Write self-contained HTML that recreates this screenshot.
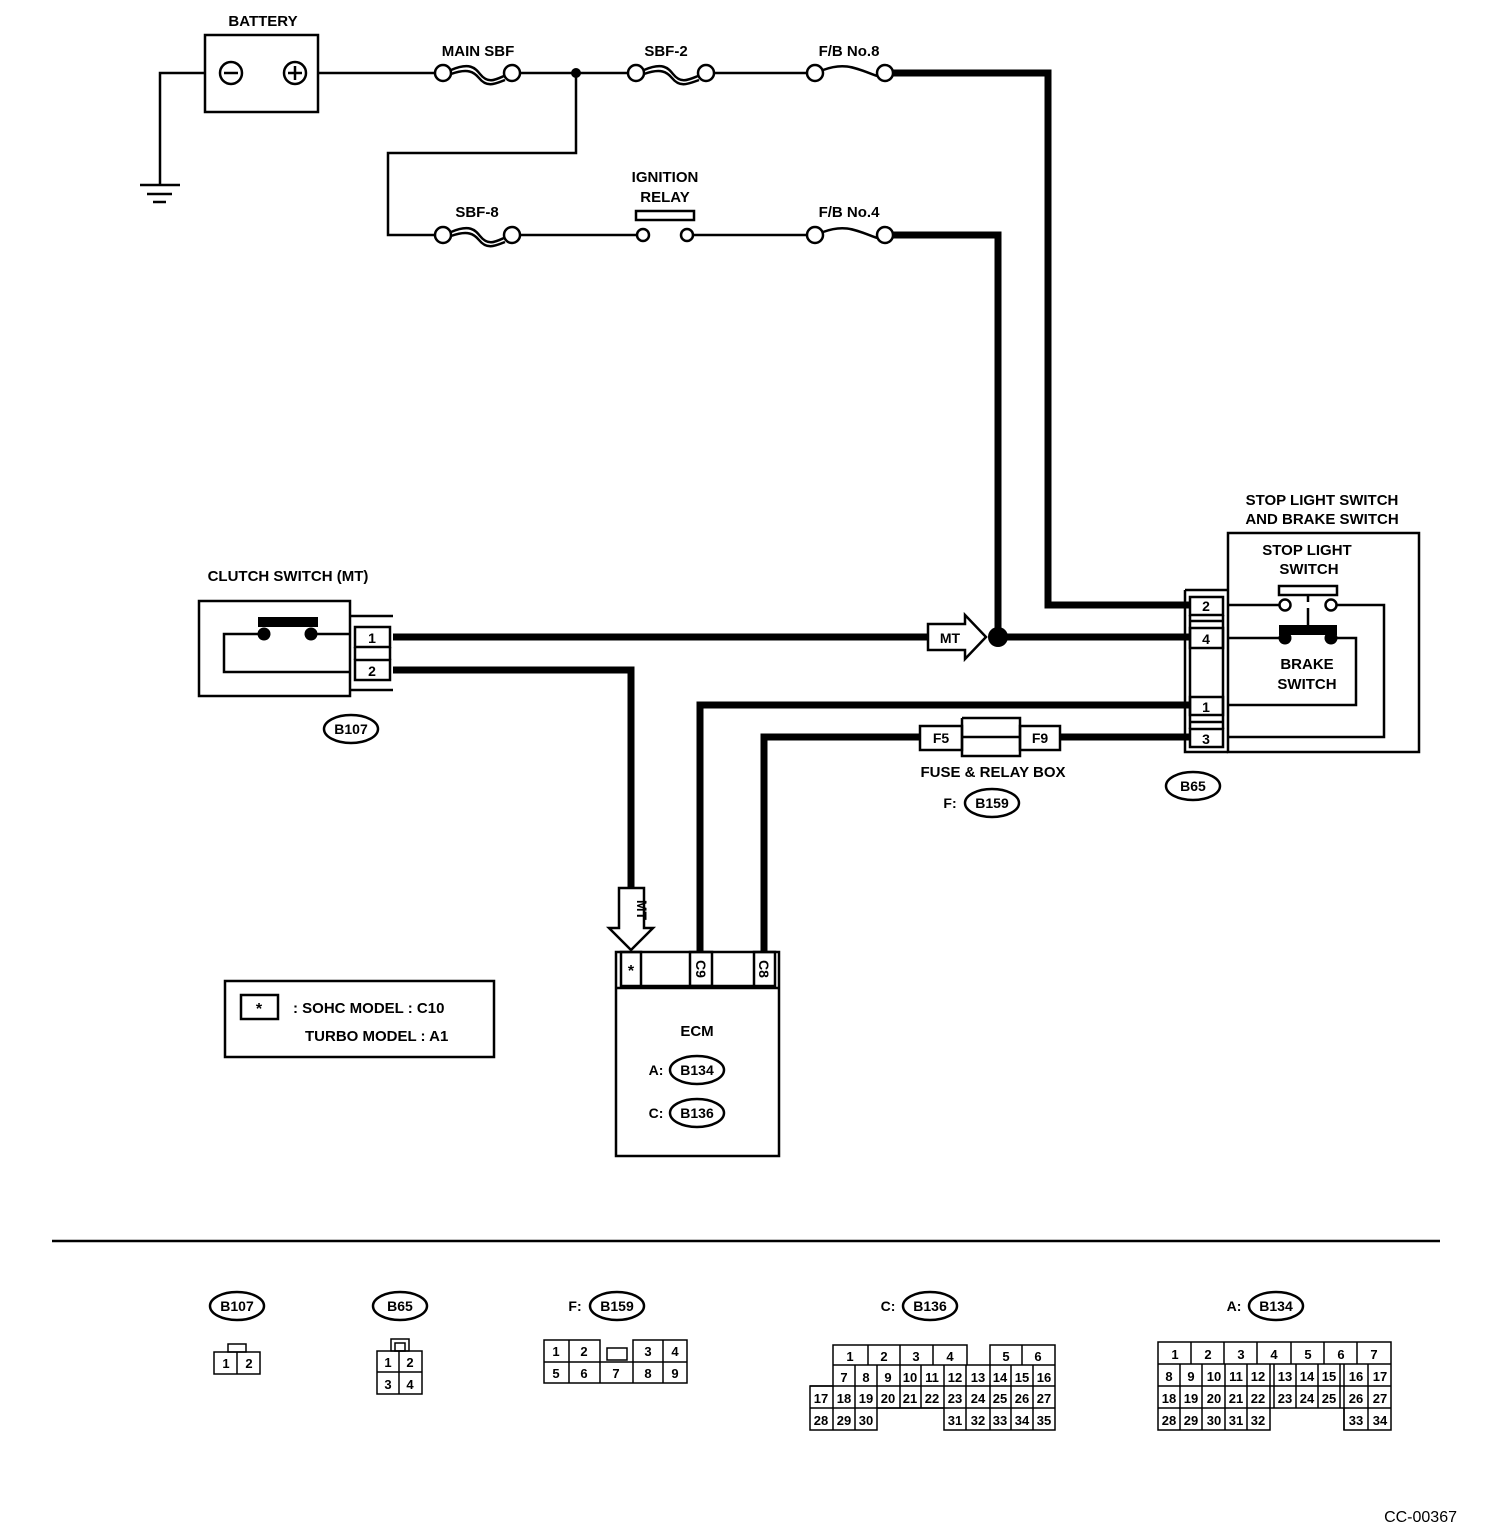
<!DOCTYPE html>
<html><head><meta charset="utf-8"><style>
html,body{margin:0;padding:0;background:#fff;}
svg{display:block;}
text{font-family:"Liberation Sans",sans-serif;font-weight:bold;fill:#000;}
</style></head><body>
<svg width="1504" height="1540" viewBox="0 0 1504 1540" xmlns="http://www.w3.org/2000/svg">
<g fill="none" stroke="#000" stroke-width="2.5">
<!-- battery -->
<rect x="205" y="35" width="113" height="77"/>
<circle cx="231" cy="73" r="11"/><line x1="224" y1="73" x2="238" y2="73"/>
<circle cx="295" cy="73" r="11"/><line x1="288" y1="73" x2="302" y2="73"/><line x1="295" y1="66" x2="295" y2="80"/>
<polyline points="205,73 160,73 160,185"/>
<line x1="140" y1="185" x2="180" y2="185"/><line x1="147" y1="194" x2="172" y2="194"/><line x1="153" y1="202" x2="166" y2="202"/>
<!-- top line -->
<line x1="318" y1="73" x2="435" y2="73"/>
<line x1="520" y1="73" x2="628" y2="73"/>
<line x1="714" y1="73" x2="807" y2="73"/>
<polyline points="576,73 576,153 388,153 388,235 435,235"/>
<line x1="520" y1="235" x2="636" y2="235"/>
<line x1="694" y1="235" x2="807" y2="235"/>
<!-- fuses -->
<circle cx="443" cy="73" r="8"/><circle cx="512" cy="73" r="8"/>
<path d="M451,70 C470,62 475,68 480,74 C488,84 495,80 504,76"/><path d="M451,74 C468,68 474,72 479,78 C487,88 495,84 505,80"/>
<circle cx="636" cy="73" r="8"/><circle cx="706" cy="73" r="8"/>
<path d="M644,70 C663,62 668,68 673,74 C681,84 688,80 698,76"/><path d="M644,74 C661,68 667,72 672,78 C680,88 688,84 699,80"/>
<circle cx="443" cy="235" r="8"/><circle cx="512" cy="235" r="8"/>
<path d="M451,232 C470,224 475,230 480,236 C488,246 495,242 504,238"/><path d="M451,236 C468,230 474,234 479,240 C487,250 495,246 505,242"/>
<circle cx="815" cy="73" r="8"/><circle cx="885" cy="73" r="8"/>
<path d="M823,70 C845,62 855,68 877,76"/>
<circle cx="815" cy="235" r="8"/><circle cx="885" cy="235" r="8"/>
<path d="M823,232 C845,224 855,230 877,238"/>
<!-- relay -->
<circle cx="643" cy="235" r="6"/><circle cx="687" cy="235" r="6"/>
<rect x="636" y="211" width="58" height="9"/>
</g>
<circle cx="576" cy="73" r="5" fill="#000"/>
<!-- thick wires -->
<g fill="none" stroke="#000" stroke-width="7">
<polyline points="892,73 1048,73 1048,605 1190,605"/>
<polyline points="892,235 998,235 998,637"/>
<line x1="393" y1="637" x2="930" y2="637"/>
<line x1="998" y1="637" x2="1190" y2="637"/>
<polyline points="393,670 631,670 631,890"/>
<polyline points="1190,705 700,705 700,952"/>
<line x1="1190" y1="737" x2="1060" y2="737"/>
<polyline points="920,737 764,737 764,952"/>
</g>
<circle cx="998" cy="637" r="10" fill="#000"/>
<!-- MT arrows -->
<path d="M928,624 L965,624 L965,615 L986,637 L965,659 L965,650 L928,650 Z" fill="#fff" stroke="#000" stroke-width="2.5"/>
<text x="950" y="643" font-size="14" text-anchor="middle">MT</text>
<path d="M619,888 L644,888 L644,928 L653,928 L631,950 L609,928 L619,928 Z" fill="#fff" stroke="#000" stroke-width="2.5"/>
<text x="0" y="0" font-size="14" text-anchor="middle" transform="translate(637,910) rotate(90)">MT</text>
<g fill="none" stroke="#000" stroke-width="2.5">
<!-- clutch switch -->
<rect x="199" y="601" width="151" height="95"/>
<polyline points="258,634 224,634 224,672 350,672"/>
<line x1="311" y1="634" x2="350" y2="634"/>
<polyline points="350,616 393,616"/><polyline points="350,690 393,690"/>
<rect x="355" y="627" width="35" height="20"/><rect x="355" y="660" width="35" height="20"/>
<line x1="355" y1="647" x2="355" y2="660"/><line x1="390" y1="647" x2="390" y2="660"/>
<!-- B65 & stop switch -->
<rect x="1228" y="533" width="191" height="219"/>
<polyline points="1185,590 1228,590"/><polyline points="1185,590 1185,752 1228,752"/>
<rect x="1190" y="597" width="33" height="18"/><rect x="1190" y="628" width="33" height="20"/>
<rect x="1190" y="697" width="33" height="18"/><rect x="1190" y="729" width="33" height="18"/>
<line x1="1190" y1="615" x2="1190" y2="729"/><line x1="1223" y1="615" x2="1223" y2="729"/>
<line x1="1190" y1="621" x2="1223" y2="621"/><line x1="1190" y1="722" x2="1223" y2="722"/>
<rect x="1279" y="586" width="58" height="9"/>
<circle cx="1285" cy="605" r="5.5"/><circle cx="1331" cy="605" r="5.5"/>
<line x1="1308" y1="595" x2="1308" y2="602"/><line x1="1308" y1="608" x2="1308" y2="625"/>
<line x1="1228" y1="605" x2="1279" y2="605"/>
<polyline points="1337,605 1384,605 1384,737 1228,737"/>
<line x1="1228" y1="638" x2="1279" y2="638"/>
<polyline points="1337,638 1356,638 1356,705 1228,705"/>
<!-- fuse relay box -->
<rect x="920" y="726" width="42" height="24"/><rect x="1020" y="726" width="40" height="24"/>
<polyline points="962,718 1020,718 1020,756 962,756 962,718"/>
<line x1="962" y1="737" x2="1020" y2="737"/>
<!-- ECM -->
<rect x="616" y="952" width="163" height="204"/>
<line x1="616" y1="988" x2="779" y2="988"/>
<rect x="621" y="952" width="20" height="34"/><rect x="690" y="952" width="22" height="34"/><rect x="754" y="952" width="21" height="34"/>
<line x1="641" y1="986" x2="754" y2="986"/>
<!-- legend -->
<rect x="225" y="981" width="269" height="76"/>
<rect x="241" y="995" width="37" height="24"/>
<!-- ovals -->
<ellipse cx="351" cy="729" rx="27" ry="14"/>
<ellipse cx="1193" cy="786" rx="27" ry="14"/>
<ellipse cx="992" cy="803" rx="27" ry="14"/>
<ellipse cx="697" cy="1070" rx="27" ry="14"/>
<ellipse cx="697" cy="1113" rx="27" ry="14"/>
<ellipse cx="237" cy="1306" rx="27" ry="14"/>
<ellipse cx="400" cy="1306" rx="27" ry="14"/>
<ellipse cx="617" cy="1306" rx="27" ry="14"/>
<ellipse cx="930" cy="1306" rx="27" ry="14"/>
<ellipse cx="1276" cy="1306" rx="27" ry="14"/>
</g>
<rect x="258" y="617" width="60" height="10" fill="#000"/>
<circle cx="264" cy="634" r="6.5" fill="#000"/><circle cx="311" cy="634" r="6.5" fill="#000"/>
<rect x="1279" y="625" width="58" height="10" fill="#000"/>
<circle cx="1285" cy="638" r="6.5" fill="#000"/><circle cx="1331" cy="638" r="6.5" fill="#000"/>
<line x1="52" y1="1241" x2="1440" y2="1241" stroke="#000" stroke-width="2.5"/>
<!-- labels -->
<g font-size="15" text-anchor="middle">
<text x="263" y="26">BATTERY</text>
<text x="478" y="56">MAIN SBF</text>
<text x="666" y="56">SBF-2</text>
<text x="849" y="56">F/B  No.8</text>
<text x="477" y="217">SBF-8</text>
<text x="665" y="182">IGNITION</text>
<text x="665" y="202">RELAY</text>
<text x="849" y="217">F/B  No.4</text>
<text x="288" y="581">CLUTCH SWITCH (MT)</text>
<text x="1322" y="505">STOP LIGHT SWITCH</text>
<text x="1322" y="524">AND BRAKE SWITCH</text>
<text x="1307" y="555">STOP LIGHT</text>
<text x="1309" y="574">SWITCH</text>
<text x="1307" y="669">BRAKE</text>
<text x="1307" y="689">SWITCH</text>
<text x="993" y="777">FUSE &amp; RELAY BOX</text>
<text x="697" y="1036">ECM</text>
</g>
<g font-size="14" text-anchor="middle">
<text x="372" y="643">1</text><text x="372" y="676">2</text>
<text x="1206" y="611">2</text><text x="1206" y="644">4</text><text x="1206" y="712">1</text><text x="1206" y="744">3</text>
<text x="941" y="743">F5</text><text x="1040" y="743">F9</text>
<text x="631" y="976" font-size="16">*</text>
<text transform="translate(696,969) rotate(90)">C9</text>
<text transform="translate(759,969) rotate(90)">C8</text>
<text x="351" y="734">B107</text>
<text x="1193" y="791">B65</text>
<text x="992" y="808">B159</text><text x="950" y="808">F:</text>
<text x="697" y="1075">B134</text><text x="656" y="1075">A:</text>
<text x="697" y="1118">B136</text><text x="656" y="1118">C:</text>
<text x="259" y="1014" font-size="16">*</text>
<text x="237" y="1311">B107</text>
<text x="400" y="1311">B65</text>
<text x="617" y="1311">B159</text><text x="575" y="1311">F:</text>
<text x="930" y="1311">B136</text><text x="888" y="1311">C:</text>
<text x="1276" y="1311">B134</text><text x="1234" y="1311">A:</text>
</g>
<g font-size="15">
<text x="293" y="1013">: SOHC MODEL : C10</text>
<text x="305" y="1041">TURBO MODEL : A1</text>
</g>
<text x="1457" y="1522" font-size="16" text-anchor="end" style="font-weight:normal">CC-00367</text>
<!-- bottom connectors -->
<g fill="none" stroke="#000" stroke-width="1.5">
<rect x="214" y="1352" width="46" height="22"/><line x1="237" y1="1352" x2="237" y2="1374"/>
<rect x="228" y="1344" width="18" height="8"/>
<rect x="377" y="1351" width="45" height="43"/><line x1="399" y1="1351" x2="399" y2="1394"/><line x1="377" y1="1372" x2="422" y2="1372"/>
<rect x="391" y="1339" width="18" height="12"/><rect x="395" y="1343" width="10" height="8"/>
<path d="M544,1340 H600 V1362 H633 V1340 H687 V1383 H544 Z"/>
<line x1="544" y1="1362" x2="600" y2="1362"/><line x1="633" y1="1362" x2="687" y2="1362"/>
<line x1="569" y1="1340" x2="569" y2="1383"/><line x1="600" y1="1362" x2="600" y2="1383"/><line x1="663" y1="1340" x2="663" y2="1383"/><line x1="633" y1="1362" x2="633" y2="1383"/>
<rect x="607" y="1348" width="20" height="12"/>
<!-- B136 -->
<path d="M833,1345 H967 V1365 H990 V1345 H1055 V1430 H944 V1408 H877 V1430 H810 V1386 H833 Z"/>
<line x1="833" y1="1365" x2="967" y2="1365"/><line x1="990" y1="1365" x2="1055" y2="1365"/>
<line x1="810" y1="1386" x2="1055" y2="1386"/><line x1="810" y1="1408" x2="1055" y2="1408"/>
<line x1="868" y1="1345" x2="868" y2="1365"/><line x1="900" y1="1345" x2="900" y2="1365"/><line x1="933" y1="1345" x2="933" y2="1365"/><line x1="1022" y1="1345" x2="1022" y2="1365"/>
<line x1="833" y1="1386" x2="833" y2="1430"/><line x1="855" y1="1365" x2="855" y2="1430"/>
<line x1="877" y1="1365" x2="877" y2="1408"/><line x1="900" y1="1365" x2="900" y2="1408"/><line x1="921" y1="1365" x2="921" y2="1408"/><line x1="944" y1="1365" x2="944" y2="1408"/>
<line x1="966" y1="1365" x2="966" y2="1430"/><line x1="990" y1="1365" x2="990" y2="1430"/><line x1="1011" y1="1365" x2="1011" y2="1430"/><line x1="1033" y1="1365" x2="1033" y2="1430"/>
<!-- B134 -->
<path d="M1158,1342 H1391 V1430 H1344 V1408 H1270 V1430 H1158 Z"/>
<line x1="1158" y1="1364" x2="1391" y2="1364"/><line x1="1158" y1="1386" x2="1391" y2="1386"/><line x1="1158" y1="1408" x2="1270" y2="1408"/><line x1="1344" y1="1408" x2="1391" y2="1408"/>
<line x1="1191" y1="1342" x2="1191" y2="1364"/><line x1="1224" y1="1342" x2="1224" y2="1364"/><line x1="1257" y1="1342" x2="1257" y2="1364"/><line x1="1291" y1="1342" x2="1291" y2="1364"/><line x1="1324" y1="1342" x2="1324" y2="1364"/><line x1="1357" y1="1342" x2="1357" y2="1364"/>
<line x1="1180" y1="1364" x2="1180" y2="1430"/><line x1="1202" y1="1364" x2="1202" y2="1430"/><line x1="1225" y1="1364" x2="1225" y2="1430"/><line x1="1247" y1="1364" x2="1247" y2="1430"/>
<line x1="1270" y1="1364" x2="1270" y2="1408"/><line x1="1274" y1="1364" x2="1274" y2="1408"/>
<line x1="1296" y1="1364" x2="1296" y2="1408"/><line x1="1318" y1="1364" x2="1318" y2="1408"/>
<line x1="1340" y1="1364" x2="1340" y2="1408"/><line x1="1344" y1="1364" x2="1344" y2="1430"/>
<line x1="1368" y1="1364" x2="1368" y2="1430"/>
</g>
<g font-size="13" text-anchor="middle" style="font-weight:normal">
<text x="226" y="1368">1</text><text x="249" y="1368">2</text>
<text x="388" y="1367">1</text><text x="410" y="1367">2</text><text x="388" y="1389">3</text><text x="410" y="1389">4</text>
<text x="556" y="1356">1</text><text x="584" y="1356">2</text><text x="648" y="1356">3</text><text x="675" y="1356">4</text>
<text x="556" y="1378">5</text><text x="584" y="1378">6</text><text x="616" y="1378">7</text><text x="648" y="1378">8</text><text x="675" y="1378">9</text>
<text x="850" y="1361">1</text><text x="884" y="1361">2</text><text x="916" y="1361">3</text><text x="950" y="1361">4</text><text x="1006" y="1361">5</text><text x="1038" y="1361">6</text>
<text x="844" y="1382">7</text><text x="866" y="1382">8</text><text x="888" y="1382">9</text><text x="910" y="1382">10</text><text x="932" y="1382">11</text><text x="955" y="1382">12</text><text x="978" y="1382">13</text><text x="1000" y="1382">14</text><text x="1022" y="1382">15</text><text x="1044" y="1382">16</text>
<text x="821" y="1403">17</text><text x="844" y="1403">18</text><text x="866" y="1403">19</text><text x="888" y="1403">20</text><text x="910" y="1403">21</text><text x="932" y="1403">22</text><text x="955" y="1403">23</text><text x="978" y="1403">24</text><text x="1000" y="1403">25</text><text x="1022" y="1403">26</text><text x="1044" y="1403">27</text>
<text x="821" y="1425">28</text><text x="844" y="1425">29</text><text x="866" y="1425">30</text><text x="955" y="1425">31</text><text x="978" y="1425">32</text><text x="1000" y="1425">33</text><text x="1022" y="1425">34</text><text x="1044" y="1425">35</text>
<text x="1175" y="1359">1</text><text x="1208" y="1359">2</text><text x="1241" y="1359">3</text><text x="1274" y="1359">4</text><text x="1308" y="1359">5</text><text x="1341" y="1359">6</text><text x="1374" y="1359">7</text>
<text x="1169" y="1381">8</text><text x="1191" y="1381">9</text><text x="1214" y="1381">10</text><text x="1236" y="1381">11</text><text x="1258" y="1381">12</text><text x="1285" y="1381">13</text><text x="1307" y="1381">14</text><text x="1329" y="1381">15</text><text x="1356" y="1381">16</text><text x="1380" y="1381">17</text>
<text x="1169" y="1403">18</text><text x="1191" y="1403">19</text><text x="1214" y="1403">20</text><text x="1236" y="1403">21</text><text x="1258" y="1403">22</text><text x="1285" y="1403">23</text><text x="1307" y="1403">24</text><text x="1329" y="1403">25</text><text x="1356" y="1403">26</text><text x="1380" y="1403">27</text>
<text x="1169" y="1425">28</text><text x="1191" y="1425">29</text><text x="1214" y="1425">30</text><text x="1236" y="1425">31</text><text x="1258" y="1425">32</text><text x="1356" y="1425">33</text><text x="1380" y="1425">34</text>
</g>
</svg>
</body></html>
